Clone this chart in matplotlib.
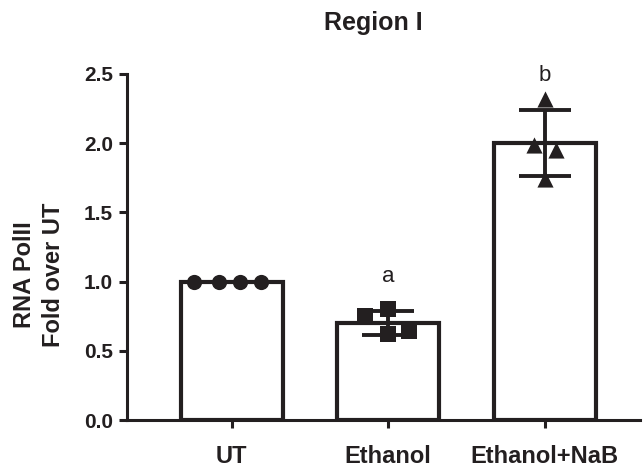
import numpy as np
import matplotlib.pyplot as plt

plt.rcParams['font.family'] = ['Liberation Sans', 'DejaVu Sans']

# Replicate values per group (fold over UT)
groups = ['UT', 'Ethanol', 'Ethanol+NaB']
ut_vals = [1.0, 1.0, 1.0, 1.0]
ethanol_vals = [0.75, 0.80, 0.62, 0.64]
nab_vals = [2.32, 1.99, 1.95, 1.74]
sig_letters = ['', 'a', 'b']

values = [ut_vals, ethanol_vals, nab_vals]
markers = ['o', 's', '^']
sizes = [120, 120, 135]
# horizontal spread of the replicate points inside each bar
spread = [[-0.24, -0.08, 0.05, 0.19],
          [-0.15, 0.0, 0.0, 0.13],
          [0.0, -0.07, 0.07, 0.0]]

ink = '#231f20'

fig = plt.figure(figsize=[6.44, 4.67], dpi=100)
ax = fig.add_axes([0.197, 0.1006, 0.797, 0.741])

x = np.arange(len(groups))
means = [np.mean(v) for v in values]
sds = [np.std(v, ddof=1) for v in values]

ax.bar(x, means, width=0.65, color='white', edgecolor=ink, linewidth=3, zorder=2)

for i in range(len(groups)):
    if sds[i] > 0:
        ax.errorbar(x[i], means[i], yerr=sds[i], fmt='none', ecolor=ink,
                    elinewidth=2.8, capsize=19, capthick=2.8, zorder=3)
    ax.scatter(x[i] + np.array(spread[i]), values[i], marker=markers[i],
               s=sizes[i], color=ink, zorder=4, linewidths=0)
    if sig_letters[i]:
        top = means[i] + sds[i]
        ax.text(x[i], top + 0.25, sig_letters[i], ha='center', va='center',
                fontsize=16, color=ink)

ax.set_xlim(-0.67, 2.61)
ax.set_ylim(0, 2.5)
ax.set_yticks([0.0, 0.5, 1.0, 1.5, 2.0, 2.5])
ax.set_yticklabels(['0.0', '0.5', '1.0', '1.5', '2.0', '2.5'],
                   fontsize=15, fontweight='bold', color=ink)
ax.set_xticks(x)
ax.set_xticklabels(groups, fontsize=17, fontweight='bold', color=ink)

for side in ['top', 'right']:
    ax.spines[side].set_visible(False)
for side in ['left', 'bottom']:
    ax.spines[side].set_linewidth(2.2)
    ax.spines[side].set_color(ink)
ax.tick_params(axis='both', width=2.2, length=6, color=ink)
ax.tick_params(axis='y', pad=4)
ax.tick_params(axis='x', pad=12)

ax.set_ylabel('RNA PolII\nFold over UT', fontsize=17, fontweight='bold',
              color=ink, linespacing=1.35)
ax.yaxis.set_label_coords(-0.12, 0.42)
fig.text(0.58, 0.95, 'Region I', ha='center', va='center', fontsize=18,
         fontweight='bold', color=ink)

plt.savefig('out.png', dpi=100)
